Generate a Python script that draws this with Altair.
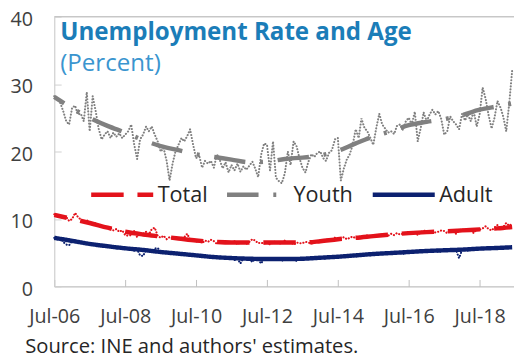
import altair as alt
import pandas as pd

# ---------------- data ----------------
series_names = ["Total", "Youth", "Adult"]
series_colors = ["#E3121B", "#808080", "#0C2170"]
trend_dashes = [[33, 14], [32, 15, 3, 15], [1, 0]]

# monthly observations, Jul-2006 ... Jun-2019
youth_raw = [
    28.2, 27.8, 27.2, 26.0, 24.5, 24.0, 26.5, 26.8, 25.5, 25.6, 24.5, 28.8,
    23.0, 28.2, 26.0, 23.4, 21.8, 22.5, 23.0, 22.0, 22.8, 22.2, 22.7, 22.0,
    22.5, 23.0, 24.0, 21.1, 18.9, 21.8, 22.5, 23.7, 23.0, 23.7, 22.5, 21.5,
    20.0, 20.5, 18.6, 15.7, 18.2, 20.0, 21.0, 22.0, 21.5, 22.3, 23.3, 21.0,
    19.0, 19.5, 17.6, 18.6, 18.2, 18.6, 17.6, 19.6, 18.8, 17.5, 18.4, 16.9,
    18.0, 17.2, 18.2, 17.0, 17.8, 17.3, 17.9, 18.5, 17.5, 16.2, 19.5, 21.2,
    21.0, 17.2, 21.5, 16.1, 15.6, 15.3, 16.8, 20.0, 18.0, 21.5, 20.8, 19.0,
    17.6, 16.9, 18.5, 19.6, 19.2, 19.8, 20.0, 19.0, 18.6, 19.8, 20.2, 21.8,
    22.0, 15.7, 17.5, 18.8, 19.6, 21.0, 23.3, 22.0, 24.9, 23.5, 23.0, 22.0,
    21.0, 23.5, 25.6, 24.0, 23.4, 22.8, 23.0, 22.6, 23.8, 24.0, 23.2, 24.5,
    25.0, 24.0, 25.9, 21.5, 23.5, 25.8, 24.5, 25.5, 26.2, 25.5, 26.0, 24.8,
    22.5, 23.0, 25.2, 24.5, 24.0, 23.3, 25.6, 24.6, 25.5, 24.5, 26.0, 23.7,
    25.5, 29.5, 27.8, 25.4, 23.4, 25.0, 27.5, 26.5, 25.2, 23.0, 27.0, 32.0,
]
total_raw = [
    10.7, 10.4, 10.5, 10.1, 10.3, 9.7, 10.0, 10.9, 10.3, 9.9, 9.6, 9.8,
    9.5, 9.2, 9.4, 9.0, 8.8, 8.9, 8.6, 8.7, 8.3, 8.5, 8.1, 8.3,
    7.6, 7.5, 7.6, 8.2, 7.3, 7.9, 7.8, 8.1, 7.7, 8.5, 8.7, 7.5,
    7.2, 7.5, 7.0, 7.3, 7.1, 7.4, 7.0, 7.2, 7.3, 7.8, 6.9, 7.0,
    6.6, 6.9, 6.4, 6.8, 6.6, 6.9, 6.7, 6.3, 6.6, 6.8, 6.5, 6.6,
    6.4, 6.7, 6.2, 6.6, 6.5, 6.3, 6.6, 7.0, 6.8, 6.4, 6.5, 6.3,
    6.6, 6.2, 6.5, 6.7, 6.4, 6.3, 6.8, 6.5, 6.6, 6.2, 6.5, 6.4,
    6.4, 6.6, 6.5, 6.3, 6.7, 6.6, 6.8, 6.5, 6.9, 7.0, 6.8, 7.2,
    7.0, 7.1, 7.3, 7.0, 7.2, 7.4, 7.1, 7.3, 7.5, 7.2, 7.6, 7.4,
    7.5, 7.3, 7.6, 7.4, 7.7, 7.5, 7.8, 7.6, 7.9, 7.7, 7.8, 8.0,
    8.1, 7.9, 8.2, 7.6, 8.0, 8.3, 8.1, 7.9, 8.2, 8.0, 8.1, 8.3,
    8.2, 7.9, 8.4, 8.1, 7.8, 8.3, 8.5, 8.2, 8.4, 8.3, 7.9, 8.5,
    8.4, 8.6, 8.9, 8.5, 8.3, 8.7, 9.1, 8.6, 8.8, 9.4, 9.0, 9.3,
]
adult_raw = [
    7.2, 7.0, 7.1, 6.6, 6.2, 6.1, 6.7, 6.6, 6.5, 6.4, 6.5, 6.3,
    6.3, 6.2, 6.1, 6.2, 5.9, 6.0, 6.0, 5.8, 5.9, 5.6, 5.8, 5.7,
    5.6, 5.5, 5.6, 5.3, 5.5, 4.6, 4.5, 5.4, 5.5, 5.3, 5.6, 5.7,
    5.1, 5.0, 5.1, 4.9, 5.0, 4.8, 4.9, 4.8, 4.7, 4.9, 4.7, 4.6,
    4.6, 4.5, 4.6, 4.4, 4.5, 4.3, 4.4, 4.2, 4.4, 4.3, 4.2, 4.3,
    4.2, 3.9, 4.1, 3.4, 4.2, 4.0, 4.1, 3.6, 4.1, 4.0, 3.4, 4.1,
    4.0, 4.1, 3.9, 4.0, 4.2, 3.8, 4.1, 4.0, 3.9, 4.1, 3.8, 4.0,
    4.1, 4.2, 4.0, 4.3, 4.1, 4.2, 4.3, 4.1, 4.2, 4.4, 4.2, 4.4,
    4.4, 4.3, 4.5, 4.4, 4.6, 4.5, 4.4, 4.7, 4.5, 4.6, 4.8, 4.6,
    4.8, 4.7, 4.9, 4.8, 5.0, 4.8, 4.9, 5.2, 4.9, 5.0, 4.8, 5.1,
    5.1, 5.0, 5.2, 5.1, 5.4, 5.2, 5.1, 5.3, 5.2, 5.3, 5.1, 5.2,
    5.3, 5.4, 5.2, 5.5, 5.3, 4.2, 5.4, 5.5, 5.3, 5.6, 5.4, 5.5,
    5.5, 5.7, 5.6, 5.8, 5.6, 5.7, 5.9, 5.6, 5.8, 5.7, 5.9, 5.8,
]

# smoothed trends, every six months from Jul-2006 (month index)
trend_months = [0, 6, 12, 18, 24, 30, 36, 42, 48, 54, 60, 66, 72, 78,
                84, 90, 96, 102, 108, 114, 120, 126, 132, 138, 144, 150, 155]
total_trend = [10.6, 10.0, 9.4, 8.7, 8.1, 7.7, 7.4, 7.1, 6.8, 6.6, 6.5, 6.5, 6.5, 6.5,
               6.5, 6.7, 7.0, 7.2, 7.45, 7.7, 7.9, 8.05, 8.15, 8.3, 8.45, 8.6, 8.8]
youth_trend = [28.1, 26.4, 25.0, 23.8, 22.8, 21.7, 20.8, 20.2, 19.6, 19.2, 18.8, 18.4, 18.5, 18.9,
               19.1, 19.4, 20.1, 21.2, 22.2, 23.0, 23.9, 24.4, 24.8, 25.4, 26.2, 26.7, 27.1]
adult_trend = [7.2, 6.75, 6.3, 5.95, 5.65, 5.4, 5.1, 4.85, 4.6, 4.35, 4.2, 4.1, 4.05, 4.05,
               4.1, 4.25, 4.4, 4.6, 4.8, 4.95, 5.1, 5.25, 5.35, 5.45, 5.6, 5.7, 5.8]

x_tick_years = [2006, 2008, 2010, 2012, 2014, 2016, 2018]
y_ticks = [0, 10, 20, 30, 40]

FONT = "Open Sans"
W, H = 467, 274


def month_date(m):
    y = 2006 + (6 + m) // 12
    mo = (6 + m) % 12 + 1
    return f"{y}-{mo:02d}-01T00:00:00"


raw_rows = []
for name, vals in zip(series_names, [total_raw, youth_raw, adult_raw]):
    for m, v in enumerate(vals):
        raw_rows.append({"date": month_date(m), "series": name, "value": v})
raw_df = pd.DataFrame(raw_rows)

trend_rows = []
for name, vals in zip(series_names, [total_trend, youth_trend, adult_trend]):
    for m, v in zip(trend_months, vals):
        trend_rows.append({"date": month_date(m), "series": name, "value": v})
trend_df = pd.DataFrame(trend_rows)

x_dom = [alt.DateTime(year=2006, month=7, date=1), alt.DateTime(year=2019, month=6, date=20)]
x_vals = [alt.DateTime(year=y, month=7, date=1) for y in x_tick_years]
x_scale = alt.Scale(domain=x_dom)
y_scale = alt.Scale(domain=[0, 40], nice=False)
color_scale = alt.Scale(domain=series_names, range=series_colors)
dash_scale = alt.Scale(domain=series_names, range=trend_dashes)

main_x_axis = alt.Axis(
    orient="bottom", values=x_vals, format="%b-%y", labelFont=FONT,
    labelFontSize=20, labelColor="#404040", labelPadding=21, labelFlush=False,
    labelOverlap=False, ticks=False, tickSize=0, domainColor="#BFBFBF", grid=False,
    title="Source: INE and authors' estimates.", titleFont=FONT, titleFontSize=20.5,
    titleFontWeight="normal", titleColor="#262626", titleAnchor="start",
    titleAlign="left", titleBaseline="alphabetic", titleX=-30, titleY=67)
main_y_axis = alt.Axis(
    orient="left", values=y_ticks, labelFont=FONT, labelFontSize=20,
    labelColor="#404040", labelPadding=22, labelOffset=3, ticks=False, tickSize=0,
    domainColor="#D0D0D0", grid=False, title=None)

# raw monthly series (dotted), one layer per series
raw_layers = []
for i, (name, col) in enumerate(zip(series_names, series_colors)):
    raw_layers.append(
        alt.Chart(raw_df).transform_filter(alt.datum.series == name).mark_line(
            color=col, strokeWidth=2.1, strokeDash=[0.1, 3.0], strokeCap="round"
        ).encode(
            x=alt.X("date:T", scale=x_scale, axis=main_x_axis if i == 0 else None),
            y=alt.Y("value:Q", scale=y_scale, axis=main_y_axis if i == 0 else None),
        )
    )

# smoothed trends (dashed) carrying inward-pointing tick axes and the legend
legend_kw = dict(title=None, orient="none", direction="horizontal",
                 legendX=35, legendY=147, symbolType="stroke",
                 symbolSize=3969, symbolStrokeWidth=4.5,
                 labelFont=FONT, labelFontSize=22, labelColor="#262626",
                 labelOffset=2, columnPadding=10, padding=0)
trend = alt.Chart(trend_df).mark_line(
    strokeWidth=4.5, interpolate="monotone", strokeDashOffset=20
).encode(
    x=alt.X("date:T", scale=x_scale,
            axis=alt.Axis(orient="top", offset=-H, values=x_vals, labels=False,
                          domain=False, ticks=True, tickSize=7, tickColor="#BFBFBF",
                          grid=False, title=None)),
    y=alt.Y("value:Q", scale=y_scale,
            axis=alt.Axis(orient="right", offset=-W, values=y_ticks, labels=False,
                          domain=False, ticks=True, tickSize=7, tickColor="#D0D0D0",
                          grid=False, title=None)),
    color=alt.Color("series:N", scale=color_scale, sort=series_names,
                    legend=alt.Legend(**legend_kw)),
    strokeDash=alt.StrokeDash("series:N", scale=dash_scale, sort=series_names,
                              legend=alt.Legend(**legend_kw)),
)

# top border
border = alt.Chart(pd.DataFrame({"v": [y_ticks[-1]]})).mark_rule(
    color="#BFBFBF", strokeWidth=1
).encode(y=alt.Y("v:Q", scale=y_scale, axis=None))

chart = alt.layer(*raw_layers, trend, border).resolve_axis(
    x="independent", y="independent"
).properties(
    width=W, height=H,
    autosize=alt.AutoSizeParams(type="none"),
    padding={"left": 47, "top": 6, "right": 0, "bottom": 72},
    title=alt.TitleParams(
        text="Unemployment Rate and Age", subtitle="(Percent)",
        anchor="start", frame="group", dx=6, offset=-68,
        font=FONT, fontSize=24.5, fontWeight="bold", color="#1B7DB8",
        subtitleFont=FONT, subtitleFontSize=24.5, subtitleColor="#3A95CF",
        subtitlePadding=7,
    ),
).configure_view(stroke=None).configure(background="white")

chart.save("out.html", embed_options={"renderer": "svg", "actions": False})
